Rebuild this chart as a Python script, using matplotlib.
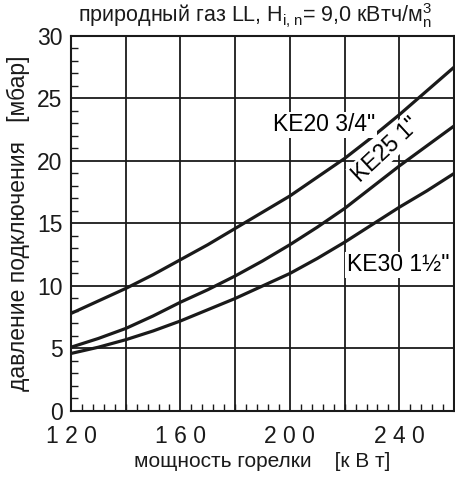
import numpy as np
import matplotlib.pyplot as plt
from matplotlib.ticker import MultipleLocator

plt.rcParams['font.family'] = ['Liberation Sans', 'DejaVu Sans']

power = [120, 130, 140, 150, 160, 170, 180, 190, 200, 210, 220, 230, 240, 250, 260]
ke20 = [7.8, 8.8, 9.8, 10.9, 12.1, 13.3, 14.6, 15.9, 17.2, 18.7, 20.2, 21.9, 23.7, 25.6, 27.5]
ke25 = [5.1, 5.8, 6.6, 7.6, 8.7, 9.7, 10.8, 12.0, 13.3, 14.7, 16.2, 17.9, 19.6, 21.2, 22.8]
ke30 = [4.6, 5.1, 5.7, 6.4, 7.2, 8.1, 9.0, 10.0, 11.0, 12.2, 13.5, 14.9, 16.3, 17.6, 19.0]

xticks = [120, 160, 200, 240]
xtick_labels = ["1 2 0", "1 6 0", "2 0 0", "2 4 0"]
yticks = [0, 5, 10, 15, 20, 25, 30]

fig = plt.figure(figsize=(4.55, 4.79), dpi=100)
ax = fig.add_axes([0.156, 0.142, 0.842, 0.783])

for s in (ke20, ke25, ke30):
    ax.plot(power, s, color='#1a1a1a', lw=2.3, zorder=3)

ax.set_xlim(120, 260)
ax.set_ylim(0, 30)
ax.set_xticks(xticks)
ax.set_xticklabels(xtick_labels)
ax.set_yticks(yticks)
ax.xaxis.set_minor_locator(MultipleLocator(4))
ax.yaxis.set_minor_locator(MultipleLocator(1))

for gx in range(140, 260, 20):
    ax.axvline(gx, color='#1a1a1a', lw=1.3, zorder=1)
for gy in range(5, 30, 5):
    ax.axhline(gy, color='#1a1a1a', lw=1.3, zorder=1)

ax.tick_params(which='major', length=0, labelsize=16.5, colors='#1a1a1a')
ax.tick_params(axis='x', which='major', pad=10)
ax.tick_params(axis='y', which='major', pad=6)
ax.tick_params(which='minor', direction='in', length=5, width=1, color='#1a1a1a')
for sp in ax.spines.values():
    sp.set_linewidth(1.5)
    sp.set_color('#1a1a1a')

ax.set_xlabel("мощность горелки    [к В т]", fontsize=15, color='#1a1a1a', labelpad=3)
ax.set_ylabel("давление подключения   [мбар]", fontsize=16.5, color='#1a1a1a', labelpad=5)
fig.text(0.56, 0.968, r"природный газ LL, H$_{\mathregular{i,n}}$= 9,0 кВтч/м$^{\mathregular{3}}_{\mathregular{n}}$",
         ha='center', va='center', fontsize=15.5, color='#1a1a1a')

bbox = dict(facecolor='white', edgecolor='none', pad=1)
ax.text(212.5, 22.9, 'KE20 3/4"', fontsize=16.5, ha='center', va='center', bbox=bbox, zorder=4)
ax.text(235, 20.9, 'KE25 1"', fontsize=16.5, ha='center', va='center', rotation=43, bbox=bbox, zorder=4)
ax.text(239.5, 11.7, 'KE30 1½"', fontsize=16.5, ha='center', va='center', bbox=bbox, zorder=4)

fig.savefig("out.png", dpi=100)
